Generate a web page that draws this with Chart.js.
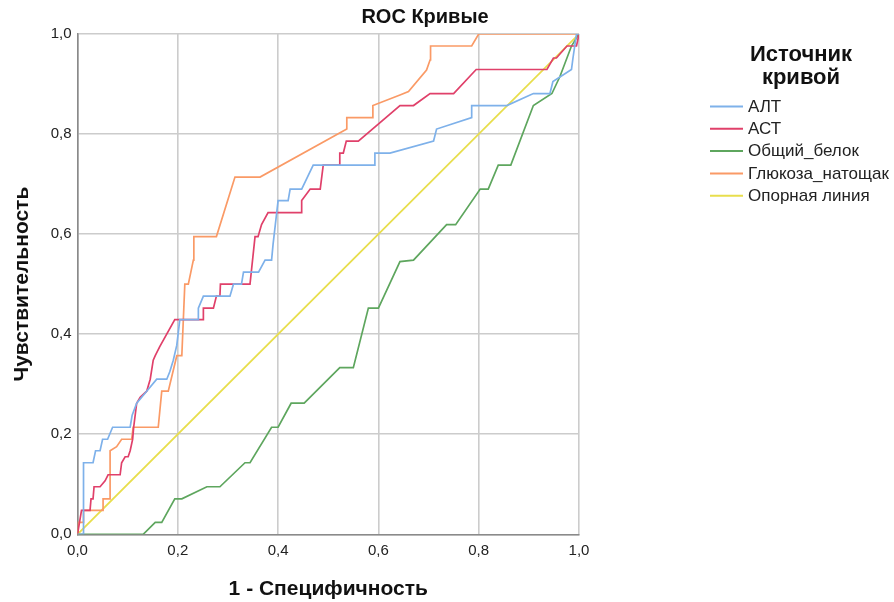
<!DOCTYPE html>
<html><head><meta charset="utf-8">
<script src="https://cdn.jsdelivr.net/npm/chart.js@4"></script>
<style>html,body{margin:0;padding:0;background:#fff;}canvas{display:block;}</style>
</head><body>
<canvas id="c" width="894" height="602"></canvas>
<script>
const chartTitle = "ROC Кривые";
const legendTitle = ["Источник", "кривой"];
const xTitle = "1 - Специфичность";
const yTitle = "Чувствительность";
const tickValues = [0, 0.2, 0.4, 0.6, 0.8, 1.0];
const seriesNames = ["АЛТ", "АСТ", "Общий_белок", "Глюкоза_натощак", "Опорная линия"];
const seriesColors = ["#7eb1ea", "#e0406a", "#5ea65e", "#fa9a66", "#e8de4c"];

const altX = [0,0.012,0.012,0.031,0.036,0.045,0.05,0.06,0.07,0.105,0.109,0.118,0.138,0.158,0.178,0.184,0.191,0.198,0.204,0.241,0.241,0.251,0.304,0.311,0.327,0.331,0.361,0.374,0.387,0.39,0.4,0.42,0.424,0.447,0.47,0.593,0.593,0.623,0.71,0.716,0.786,0.786,0.856,0.909,0.942,0.948,0.985,0.988,0.995,1];
const altY = [0,0,0.143,0.143,0.167,0.167,0.19,0.19,0.214,0.214,0.238,0.262,0.286,0.31,0.31,0.325,0.348,0.378,0.429,0.429,0.452,0.476,0.476,0.5,0.5,0.524,0.524,0.548,0.548,0.58,0.667,0.667,0.69,0.69,0.738,0.738,0.762,0.762,0.786,0.81,0.833,0.857,0.857,0.881,0.881,0.905,0.929,0.952,1,1];

const astX = [0,0.008,0.025,0.027,0.031,0.033,0.045,0.055,0.061,0.085,0.088,0.095,0.101,0.105,0.11,0.112,0.118,0.125,0.138,0.145,0.151,0.155,0.164,0.194,0.251,0.251,0.271,0.277,0.284,0.285,0.344,0.354,0.36,0.367,0.38,0.446,0.447,0.464,0.484,0.49,0.523,0.523,0.53,0.536,0.56,0.643,0.67,0.703,0.75,0.795,0.936,0.949,0.955,0.976,0.995,1];
const astY = [0,0.048,0.048,0.071,0.071,0.095,0.095,0.107,0.119,0.119,0.143,0.155,0.155,0.167,0.19,0.214,0.262,0.274,0.286,0.31,0.348,0.357,0.375,0.429,0.429,0.452,0.452,0.476,0.476,0.5,0.5,0.595,0.595,0.619,0.643,0.643,0.667,0.69,0.69,0.738,0.738,0.762,0.762,0.786,0.786,0.857,0.857,0.881,0.881,0.929,0.929,0.952,0.952,0.976,0.976,1];

const protX = [0,0.131,0.155,0.168,0.194,0.208,0.258,0.284,0.334,0.344,0.387,0.4,0.426,0.452,0.523,0.55,0.58,0.6,0.643,0.67,0.736,0.754,0.803,0.819,0.839,0.864,0.909,0.946,0.962,0.985,1];
const protY = [0,0,0.024,0.024,0.071,0.071,0.095,0.095,0.143,0.143,0.214,0.214,0.262,0.262,0.333,0.333,0.452,0.452,0.545,0.548,0.619,0.619,0.69,0.69,0.738,0.738,0.857,0.881,0.915,0.976,1];

const gluX = [0,0.002,0.012,0.012,0.051,0.051,0.065,0.065,0.078,0.088,0.108,0.111,0.161,0.168,0.181,0.198,0.208,0.214,0.221,0.231,0.232,0.277,0.314,0.364,0.537,0.537,0.589,0.589,0.643,0.66,0.696,0.703,0.704,0.786,0.8,1];
const gluY = [0,0.024,0.024,0.048,0.048,0.071,0.071,0.167,0.175,0.19,0.19,0.214,0.214,0.286,0.286,0.357,0.357,0.5,0.5,0.548,0.595,0.595,0.714,0.714,0.81,0.833,0.833,0.857,0.878,0.885,0.928,0.948,0.976,0.976,1,1];

const refX = [0, 1];
const refY = [0, 1];

const xs = [altX, astX, protX, gluX, refX];
const ys = [altY, astY, protY, gluY, refY];

const fmt = v => v.toFixed(1).replace('.', ',');
const FONT = "'Liberation Sans', Arial, sans-serif";

const datasets = seriesNames.map((n, i) => ({
  label: n,
  data: xs[i].map((x, j) => ({x: x, y: ys[i][j]})),
  borderColor: seriesColors[i],
  backgroundColor: seriesColors[i],
  borderWidth: 1.7,
  pointRadius: 0,
  tension: 0,
  fill: false
}));

const decor = {
  id: 'decor',
  afterDraw(chart) {
    const ctx = chart.ctx;
    ctx.save();
    ctx.fillStyle = '#111';
    ctx.textBaseline = 'middle';
    ctx.textAlign = 'center';
    ctx.font = "bold 20px " + FONT;
    ctx.fillText(chartTitle, 425, 17);
    ctx.font = "bold 22px " + FONT;
    ctx.fillText(legendTitle[0], 801, 55);
    ctx.fillText(legendTitle[1], 801, 78);
    ctx.font = "17px " + FONT;
    ctx.textAlign = 'left';
    chart.data.datasets.forEach((ds, i) => {
      const y = 106.5 + i * 22.3;
      ctx.strokeStyle = ds.borderColor;
      ctx.lineWidth = 2;
      ctx.beginPath();
      ctx.moveTo(710, y);
      ctx.lineTo(743, y);
      ctx.stroke();
      ctx.fillStyle = '#222';
      ctx.fillText(ds.label, 748, y + 0.5);
    });
    ctx.restore();
  }
};

new Chart(document.getElementById('c'), {
  type: 'line',
  data: { datasets: datasets },
  options: {
    responsive: false,
    animation: false,
    devicePixelRatio: 1,
    layout: { padding: { top: 34, right: 315, bottom: 0, left: 0 } },
    plugins: { legend: { display: false }, title: { display: false }, tooltip: { enabled: false } },
    scales: {
      x: {
        type: 'linear', min: 0, max: 1,
        afterFit: s => { s.height = 67.7; },
        afterBuildTicks: s => { s.ticks = tickValues.map(v => ({value: v})); },
        ticks: { callback: v => fmt(v), padding: 8, font: { family: FONT, size: 15 }, color: '#222', maxRotation: 0 },
        grid: { color: 'rgb(204,204,204)', lineWidth: 1.6, drawTicks: false },
        border: { color: '#8a8a8a', width: 1.6 },
        title: { display: true, text: xTitle, font: { family: FONT, size: 21, weight: 'bold' }, color: '#111', padding: { top: 0, bottom: 0 } }
      },
      y: {
        type: 'linear', min: 0, max: 1,
        afterFit: s => { s.width = 77.5; },
        afterBuildTicks: s => { s.ticks = tickValues.map(v => ({value: v})); },
        ticks: { callback: v => fmt(v), padding: 6, font: { family: FONT, size: 15 }, color: '#222' },
        grid: { color: 'rgb(204,204,204)', lineWidth: 1.6, drawTicks: false },
        border: { color: '#8a8a8a', width: 1.6 },
        title: { display: true, text: yTitle, font: { family: FONT, size: 21, weight: 'bold' }, color: '#111', padding: { top: 10, bottom: 0 } }
      }
    }
  },
  plugins: [decor]
});
</script>
</body></html>
